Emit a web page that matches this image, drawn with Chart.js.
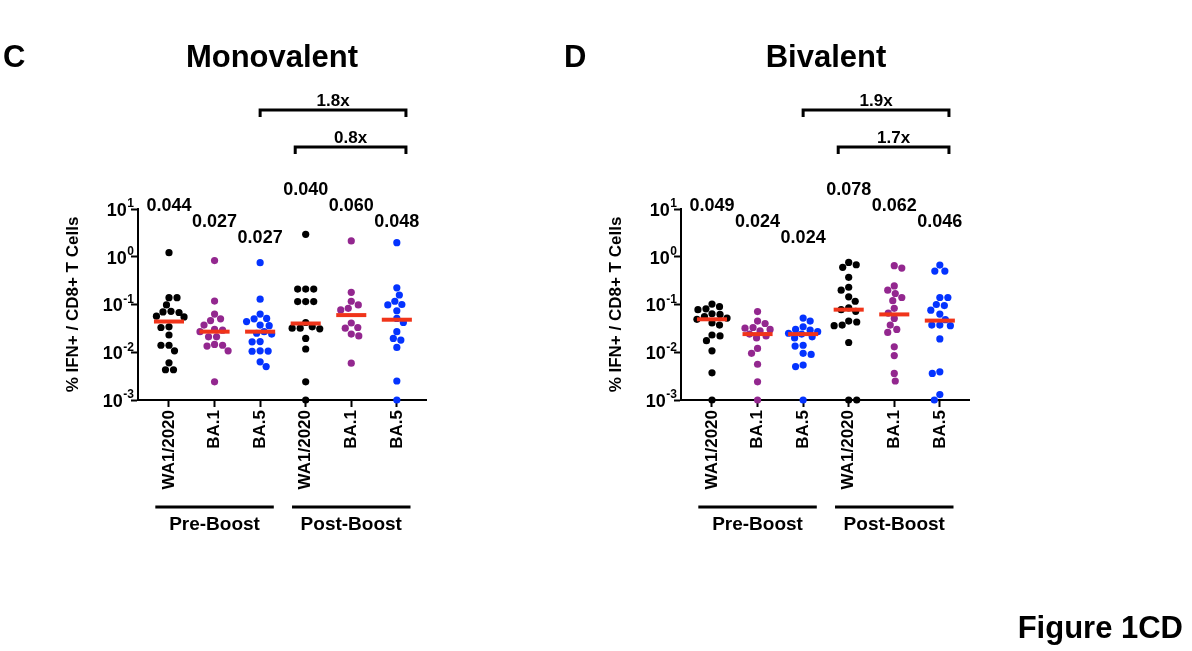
<!DOCTYPE html>
<html>
<head>
<meta charset="utf-8">
<script src="https://cdn.jsdelivr.net/npm/chart.js@4.4.0/dist/chart.umd.min.js"></script>
<style>
  body { margin: 0; background: #fff; width: 1192px; height: 651px; position: relative; overflow: hidden; }
  canvas { position: absolute; top: 0; }
</style>
</head>
<body>
<canvas id="mono" width="543" height="651" style="left:0"></canvas>
<canvas id="bi" width="649" height="651" style="left:543px"></canvas>
<script>
// categories and groups
const categories = ['WA1/2020', 'BA.1', 'BA.5', 'WA1/2020', 'BA.1', 'BA.5'];
const groups = ['Pre-Boost', 'Post-Boost'];
const yTickExps = [-3, -2, -1, 0, 1];

// monovalent (% IFN+ / CD8+ T cells)
const monoPreWA = [1.22, 0.139, 0.139, 0.098, 0.072, 0.070, 0.068, 0.057, 0.055, 0.034, 0.033, 0.023, 0.014, 0.014, 0.0107, 0.006, 0.0043, 0.0043];
const monoPreBA1 = [0.83, 0.118, 0.063, 0.050, 0.046, 0.037, 0.030, 0.029, 0.027, 0.021, 0.021, 0.0146, 0.014, 0.0135, 0.0107, 0.0024];
const monoPreBA5 = [0.75, 0.129, 0.063, 0.051, 0.050, 0.044, 0.037, 0.036, 0.027, 0.025, 0.024, 0.0167, 0.0165, 0.0107, 0.0106, 0.0105, 0.0063, 0.005];
const monoPostWA = [2.95, 0.21, 0.21, 0.21, 0.115, 0.115, 0.115, 0.042, 0.034, 0.032, 0.032, 0.031, 0.0195, 0.0117, 0.0024, 0.001];
const monoPostBA1 = [2.14, 0.18, 0.117, 0.098, 0.083, 0.077, 0.041, 0.033, 0.032, 0.024, 0.022, 0.0059];
const monoPostBA5 = [1.97, 0.224, 0.158, 0.117, 0.100, 0.098, 0.074, 0.051, 0.042, 0.027, 0.0195, 0.018, 0.0126, 0.0025, 0.001];
const monoMedians = [0.044, 0.027, 0.027, 0.040, 0.060, 0.048];
const monoFolds = ['1.8x', '0.8x'];

// bivalent
const biPreWA = [0.102, 0.090, 0.081, 0.078, 0.064, 0.062, 0.056, 0.052, 0.049, 0.041, 0.037, 0.023, 0.022, 0.0175, 0.0107, 0.0037, 0.001];
const biPreBA1 = [0.071, 0.045, 0.040, 0.033, 0.032, 0.030, 0.028, 0.024, 0.022, 0.020, 0.012, 0.0095, 0.0056, 0.0024, 0.001];
const biPreBA5 = [0.052, 0.045, 0.034, 0.030, 0.029, 0.027, 0.025, 0.024, 0.021, 0.020, 0.014, 0.0135, 0.0095, 0.009, 0.0054, 0.005, 0.001];
const biPostWA = [0.76, 0.68, 0.60, 0.37, 0.23, 0.20, 0.145, 0.117, 0.085, 0.078, 0.072, 0.045, 0.043, 0.037, 0.036, 0.016, 0.001, 0.001];
const biPostBA1 = [0.65, 0.58, 0.245, 0.20, 0.17, 0.14, 0.12, 0.083, 0.066, 0.051, 0.037, 0.030, 0.026, 0.013, 0.0085, 0.0036, 0.0025];
const biPostBA5 = [0.67, 0.50, 0.50, 0.14, 0.14, 0.10, 0.095, 0.076, 0.063, 0.048, 0.037, 0.037, 0.036, 0.019, 0.0039, 0.0036, 0.0013, 0.001];
const biMedians = [0.049, 0.024, 0.024, 0.078, 0.062, 0.046];
const biFolds = ['1.9x', '1.7x'];

const FONT = "'Liberation Sans', Arial, Helvetica, sans-serif";
const DOT_COLORS = ['#000000', '#93278f', '#0433ff', '#000000', '#93278f', '#0433ff'];
const MEDIAN_COLOR = '#f0341a';

Chart.defaults.font.family = FONT;
Chart.defaults.color = '#000';

// rough pixel sizes, only used to spread the dots of a column (beeswarm)
const PX_DECADE = 47.75, PX_UNIT = 45.4, MIN_DIST = 7.6, STEP = 0.5, MAX_DX = 15;

function swarm(values, idx) {
  const sorted = values.slice().sort((a, b) => b - a);
  const placed = [];
  const pts = [];
  sorted.forEach(v => {
    const py = -Math.log10(v) * PX_DECADE;
    const overlap = dx => placed.reduce((s, p) => {
      const d = Math.hypot(p.dx - dx, p.py - py);
      return s + Math.max(0, MIN_DIST - d);
    }, 0);
    const bias = placed.reduce((s, p) => s + p.dx, 0);
    let dx = null, bestDx = 0, bestOv = Infinity;
    for (let k = 0; dx === null && k * STEP <= MAX_DX; k++) {
      const c = k * STEP;
      const cands = k === 0 ? [0] : (bias > 0 ? [-c, c] : [c, -c]);
      for (const d of cands) {
        const ov = overlap(d);
        if (ov === 0) { dx = d; break; }
        if (ov < bestOv - 0.01) { bestOv = ov; bestDx = d; }
      }
    }
    if (dx === null) dx = bestDx;
    placed.push({ dx, py });
    pts.push({ x: idx + dx / PX_UNIT, y: v });
  });
  return pts;
}

const decor = {
  id: 'decor',
  afterDraw(chart, args, o) {
    const { ctx, chartArea: { left, top, bottom }, scales: { x, y } } = chart;
    ctx.save();
    ctx.fillStyle = '#000';
    ctx.strokeStyle = '#000';

    // y tick labels 10^n
    yTickExps.forEach(e => {
      const py = y.getPixelForValue(Math.pow(10, e));
      ctx.textAlign = 'right';
      ctx.textBaseline = 'middle';
      ctx.font = 'bold 12px ' + FONT;
      const sup = String(e);
      const supW = ctx.measureText(sup).width;
      ctx.fillText(sup, left - 4, py - 5);
      ctx.font = 'bold 18px ' + FONT;
      ctx.fillText('10', left - 4 - supW - 0.5, py + 2);
    });

    // y axis title
    ctx.save();
    ctx.translate(73, (top + bottom) / 2);
    ctx.rotate(-Math.PI / 2);
    ctx.font = 'bold 17px ' + FONT;
    ctx.textAlign = 'center';
    ctx.textBaseline = 'middle';
    ctx.fillText('% IFN+ / CD8+ T Cells', 0, 0);
    ctx.restore();

    // panel letter and title
    ctx.font = 'bold 31px ' + FONT;
    ctx.textBaseline = 'alphabetic';
    ctx.textAlign = 'left';
    ctx.fillText(o.letter, o.letterX, 67);
    ctx.textAlign = 'center';
    ctx.fillText(o.title, o.titleX, 67);

    // median values above columns
    ctx.font = 'bold 18px ' + FONT;
    ctx.textBaseline = 'middle';
    o.medians.forEach((m, i) => {
      ctx.fillText(m.toFixed(3), x.getPixelForValue(i), top - 19 + 16 * o.labelRows[i]);
    });

    // fold-change brackets
    ctx.lineWidth = 3;
    ctx.lineJoin = 'miter';
    ctx.font = 'bold 17px ' + FONT;
    ctx.textBaseline = 'alphabetic';
    o.brackets.forEach((b, i) => {
      const x1 = x.getPixelForValue(b.from), x2 = x.getPixelForValue(b.to);
      const yb = top - b.dy;
      ctx.beginPath();
      ctx.moveTo(x1, yb + 7);
      ctx.lineTo(x1, yb);
      ctx.lineTo(x2, yb);
      ctx.lineTo(x2, yb + 7);
      ctx.stroke();
      ctx.fillText(o.folds[i], (x1 + x2) / 2, yb - 4);
    });

    // group lines
    ctx.font = 'bold 19px ' + FONT;
    o.groupSpans.forEach((g, i) => {
      const x1 = x.getPixelForValue(g[0]), x2 = x.getPixelForValue(g[1]);
      ctx.beginPath();
      ctx.moveTo(x1, bottom + 107);
      ctx.lineTo(x2, bottom + 107);
      ctx.stroke();
      ctx.fillText(groups[i], (x1 + x2) / 2, bottom + 130);
    });

    if (o.figure) {
      ctx.font = 'bold 31px ' + FONT;
      ctx.textAlign = 'right';
      ctx.fillText(o.figure, o.figureX, 638);
    }
    ctx.restore();
  }
};

function makePanel(id, series, medians, folds, extra) {
  const canvas = document.getElementById(id);
  const W = canvas.width;
  const dots = series.map((vals, i) => ({
    type: 'scatter',
    data: swarm(vals, i),
    backgroundColor: DOT_COLORS[i],
    borderWidth: 0,
    pointRadius: 3.6,
    pointHoverRadius: 3.6,
    clip: false,
    order: 2
  }));
  const medLines = medians.map((m, i) => ({
    type: 'line',
    data: [{ x: i - 0.33, y: m }, { x: i + 0.33, y: m }],
    borderColor: MEDIAN_COLOR,
    borderWidth: 4,
    borderCapStyle: 'butt',
    pointRadius: 0,
    clip: false,
    order: 1
  }));
  return new Chart(canvas, {
    type: 'scatter',
    data: { datasets: medLines.concat(dots) },
    plugins: [decor],
    options: {
      responsive: false,
      animation: false,
      layout: { padding: { top: 209, right: W - 426, bottom: 0, left: 0 } },
      plugins: {
        legend: { display: false },
        tooltip: { enabled: false },
        decor: Object.assign({
          medians,
          folds,
          labelRows: [1, 2, 3, 0, 1, 2],
          brackets: [{ from: 2, to: 5.2, dy: 99 }, { from: 2.77, to: 5.2, dy: 62 }],
          groupSpans: [[-0.3, 2.3], [2.7, 5.3]]
        }, extra)
      },
      scales: {
        x: {
          type: 'linear',
          min: -0.68,
          max: 5.64,
          afterBuildTicks: s => { s.ticks = categories.map((c, i) => ({ value: i })); },
          afterFit: s => { s.height = 251; },
          ticks: {
            callback: v => categories[v] ?? '',
            font: { size: 17, weight: 'bold' },
            color: '#000',
            minRotation: 90,
            maxRotation: 90,
            padding: 3,
            autoSkip: false
          },
          grid: { drawOnChartArea: false, drawTicks: true, tickLength: 7, tickWidth: 2, tickColor: '#000' },
          border: { display: true, color: '#000', width: 2 }
        },
        y: {
          type: 'logarithmic',
          min: 0.001,
          max: 10,
          afterBuildTicks: s => { s.ticks = yTickExps.map(e => ({ value: Math.pow(10, e) })); },
          afterFit: s => { s.width = 138; },
          ticks: { callback: () => '' },
          grid: { drawOnChartArea: false, drawTicks: true, tickLength: 7, tickWidth: 2, tickColor: '#000' },
          border: { display: true, color: '#000', width: 2 }
        }
      }
    }
  });
}

const monoChart = makePanel('mono',
  [monoPreWA, monoPreBA1, monoPreBA5, monoPostWA, monoPostBA1, monoPostBA5],
  monoMedians, monoFolds,
  { letter: 'C', letterX: 3, title: 'Monovalent', titleX: 272 });

const biChart = makePanel('bi',
  [biPreWA, biPreBA1, biPreBA5, biPostWA, biPostBA1, biPostBA5],
  biMedians, biFolds,
  { letter: 'D', letterX: 21, title: 'Bivalent', titleX: 283, figure: 'Figure 1CD', figureX: 640 });
</script>
</body>
</html>
